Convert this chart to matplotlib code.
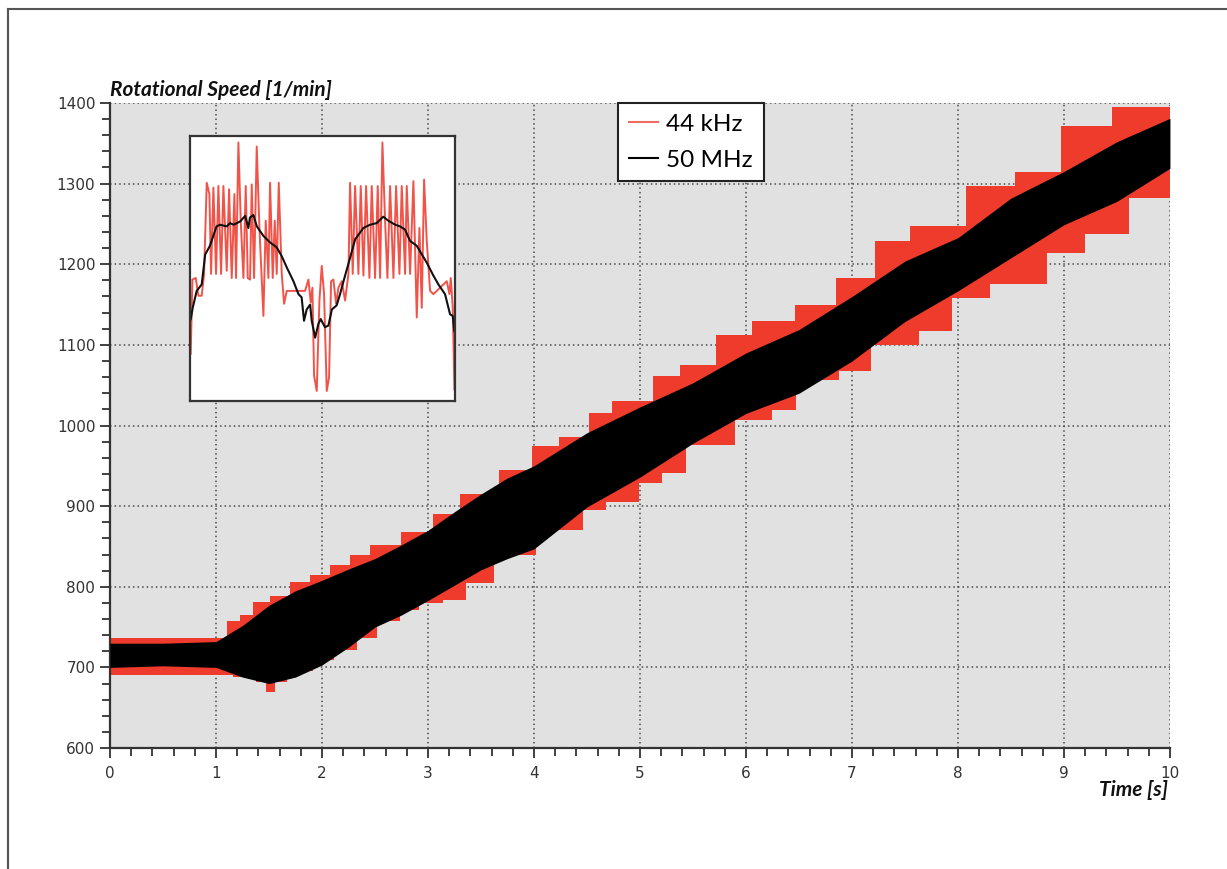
import numpy as np
import matplotlib.pyplot as plt
from matplotlib.lines import Line2D

# Speed ramp, read as envelopes of the two sampled signals
# 44 kHz signal: quantised staircase, upper and lower bounds [1/min]
red_hi_edges = [0, 1.10, 1.23, 1.35, 1.51, 1.70, 1.89, 2.08, 2.26, 2.45, 2.75, 3.05,
                3.30, 3.67, 3.98, 4.24, 4.52, 4.74, 5.12, 5.38, 5.72, 6.06, 6.46,
                6.85, 7.22, 7.55, 8.08, 8.54, 8.97, 9.45, 10]
red_hi = [737, 757, 765, 781, 788, 806, 815, 827, 839, 852, 868, 890, 915, 945, 974,
          986, 1015, 1030, 1061, 1075, 1112, 1129, 1150, 1183, 1229, 1247, 1297,
          1315, 1371, 1395]
red_lo_edges = [0, 1.16, 1.38, 1.47, 1.56, 1.67, 1.92, 2.11, 2.33, 2.52, 2.74, 2.92,
                3.14, 3.36, 3.62, 4.02, 4.46, 4.68, 4.99, 5.21, 5.43, 5.90, 6.25,
                6.47, 6.88, 7.18, 7.63, 7.94, 8.30, 8.84, 9.20, 9.61, 10]
red_lo = [690, 688, 682, 670, 682, 695, 709, 722, 736, 757, 771, 780, 784, 805, 840,
          870, 895, 905, 929, 941, 976, 1007, 1019, 1057, 1067, 1100, 1117, 1158,
          1175, 1214, 1237, 1282]

# 50 MHz signal: band bounds
blk_t = [0, 0.5, 1.0, 1.25, 1.5, 1.75, 2.0, 2.25, 2.5, 2.75, 3.0, 3.25, 3.5, 3.75,
         4.0, 4.5, 5.0, 5.5, 6.0, 6.5, 7.0, 7.5, 8.0, 8.5, 9.0, 9.5, 10.0]
blk_lo = [700, 702, 700, 688, 680, 688, 703, 725, 750, 765, 783, 802, 821, 835, 847,
          899, 936, 978, 1015, 1040, 1080, 1129, 1167, 1208, 1249, 1278, 1319]
blk_hi = [730, 730, 732, 752, 777, 795, 808, 822, 835, 852, 870, 893, 915, 935, 950,
          991, 1023, 1053, 1090, 1119, 1160, 1204, 1233, 1282, 1315, 1352, 1381]

# Close-up of two revolutions (relative position 0..100)
ins_blk_x = [0.25, 1, 2.5, 4.4, 5.7, 7.5, 10, 11.3, 13.8, 15.1, 16.4, 18.9, 20.8, 22,
             22.6, 23.9, 25.2, 27.7, 30.2, 32.7, 34.6, 36.5, 39, 40.9, 42.1, 43, 44,
             45.3, 45.9, 47.2, 48.4, 49.3, 50.9, 52.2, 53.5, 55.3, 56.6, 57.9, 59.7,
             62.3, 65.4, 67.9, 70.4, 72.9, 74.8, 77.4, 79.2, 81.1, 83, 85.5, 89.3,
             91.8, 93.7, 96.2, 98.1, 99.1, 99.7]
ins_blk_y = [1132, 1146, 1167, 1175, 1212, 1223, 1247, 1249, 1247, 1251, 1249, 1253,
             1260, 1245, 1258, 1261, 1247, 1235, 1227, 1221, 1210, 1196, 1179, 1163,
             1159, 1130, 1144, 1150, 1130, 1109, 1126, 1132, 1122, 1124, 1144, 1149,
             1163, 1179, 1200, 1231, 1245, 1249, 1251, 1259, 1254, 1249, 1247, 1243,
             1229, 1223, 1202, 1186, 1175, 1163, 1138, 1136, 1117]

ins_red_zx = [572, 577, 587, 595, 605, 612, 620, 628, 633, 640, 648, 655, 663, 670, 680,
              687, 695, 703, 708, 715, 722, 730, 737, 743, 750, 755, 762, 770, 778, 790,
              797, 805, 810, 818, 824, 830, 836, 845, 852, 860, 880, 900, 915, 925, 932,
              937, 942, 950, 958, 965, 972, 980, 987, 993, 1000, 1008, 1015, 1025, 1035,
              1045, 1050, 1058, 1065, 1075, 1082, 1090, 1098, 1108, 1115, 1125, 1133,
              1140, 1147, 1155, 1162, 1170, 1180, 1188, 1198, 1205, 1215, 1220, 1230,
              1240, 1250, 1258, 1265, 1272, 1280, 1290, 1300, 1310, 1320, 1340, 1348,
              1352, 1358, 1363]
ins_red_y = [1089, 1181, 1183, 1161, 1161, 1188, 1301, 1287, 1188, 1295, 1188, 1297,
             1188, 1297, 1192, 1293, 1183, 1287, 1183, 1351, 1254, 1183, 1297, 1183,
             1181, 1299, 1183, 1346, 1245, 1136, 1254, 1183, 1301, 1183, 1254, 1188,
             1301, 1188, 1151, 1167, 1167, 1167, 1167, 1181, 1153, 1171, 1062, 1043,
             1155, 1198, 1163, 1043, 1060, 1179, 1181, 1151, 1171, 1179, 1155, 1188,
             1301, 1188, 1297, 1188, 1297, 1186, 1297, 1183, 1297, 1183, 1297, 1183,
             1351, 1254, 1183, 1297, 1183, 1297, 1188, 1297, 1188, 1297, 1188, 1303,
             1134, 1245, 1146, 1305, 1229, 1167, 1163, 1167, 1171, 1179, 1163, 1183,
             1146, 1045]
ins_red_x = [(z - 570) / 795 * 100 for z in ins_red_zx]

RED = '#ee3b2c'
GRID = '#4a4a4a'

fig = plt.figure(figsize=(12.27, 8.69), dpi=100)
ax = fig.add_axes([0.0896, 0.1392, 0.8639, 0.7423])
ax.set_facecolor('#e1e1e1')


def staircase(edges, vals):
    xs = np.repeat(edges, 2)[1:-1]
    ys = np.repeat(vals, 2)
    return xs, ys


hx, hy = staircase(red_hi_edges, red_hi)
lx, ly = staircase(red_lo_edges, red_lo)
ax.fill(np.concatenate([hx, lx[::-1]]), np.concatenate([hy, ly[::-1]]),
        color=RED, lw=0, zorder=2)
ax.fill_between(blk_t, blk_lo, blk_hi, color='black', lw=0, zorder=3)

ax.set_xlim(0, 10)
ax.set_ylim(600, 1400)
ax.set_xticks(np.arange(0, 11, 1))
ax.set_xticks(np.arange(0, 10.01, 0.2), minor=True)
ax.set_yticks(np.arange(600, 1401, 100))
ax.set_yticks(np.arange(600, 1401, 20), minor=True)
ax.grid(True, which='major', color=GRID, linestyle=(0, (1, 2)), linewidth=1.1, zorder=1)
ax.set_axisbelow(True)
for s in ('top', 'right'):
    ax.spines[s].set_visible(False)
for s in ('left', 'bottom'):
    ax.spines[s].set_color('#333333')
    ax.spines[s].set_linewidth(1.6)
ax.tick_params(which='both', direction='out', color='#333333', width=1.3,
               labelsize=11, labelcolor='#333333')
ax.tick_params(which='major', length=7)
ax.tick_params(which='minor', length=6)
ax.tick_params(axis='x', pad=6)

ax.text(0.0, 1.004, 'Rotational Speed [1/min]', transform=ax.transAxes,
        fontsize=15, fontweight='bold', style='italic', ha='left', va='bottom',
        family='Lato', color='#111111')
ax.text(0.998, -0.05, 'Time [s]', transform=ax.transAxes, fontsize=15,
        fontweight='bold', style='italic', ha='right', va='top', family='Lato',
        color='#111111')

handles = [Line2D([], [], color='#f06a60', lw=1.5), Line2D([], [], color='black', lw=1.5)]
leg = ax.legend(handles, ['44 kHz', '50 MHz'], loc='upper left',
                bbox_to_anchor=(0.479, 1.0), borderaxespad=0, fancybox=False,
                framealpha=1, edgecolor='#222222', handlelength=1.2,
                handletextpad=0.35, borderpad=0.45, labelspacing=0.6,
                prop={'family': 'Lato', 'size': 17.5})
leg.get_frame().set_linewidth(1.5)

# inset close-up
ins = fig.add_axes([0.1549, 0.539, 0.216, 0.3045])
ins.set_facecolor('white')
ins.plot(ins_red_x, ins_red_y, color='#f04035', lw=1.4, alpha=0.9)
ins.plot(ins_blk_x, ins_blk_y, color='#111111', lw=1.5)
ins.set_xlim(0, 100)
ins.set_ylim(1031, 1359)
ins.set_xticks([])
ins.set_yticks([])
for s in ins.spines.values():
    s.set_color('#333333')
    s.set_linewidth(1.6)

# page frame
fig.add_artist(Line2D([0.0065, 1.0], [0.9895, 0.9895], transform=fig.transFigure,
                      color='#555555', lw=1.5))
fig.add_artist(Line2D([0.0065, 0.0065], [0.0, 0.9895], transform=fig.transFigure,
                      color='#555555', lw=1.5))

fig.savefig('out.png', dpi=100)
